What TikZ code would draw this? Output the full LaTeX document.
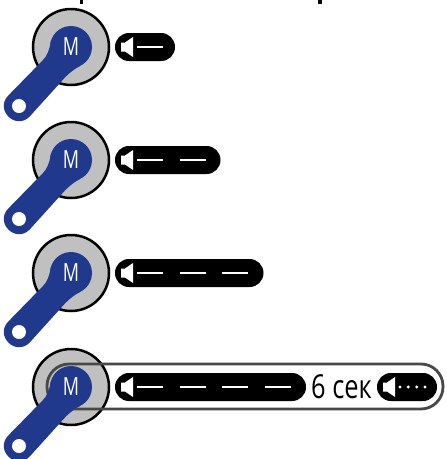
\documentclass[tikz,border=0pt]{standalone}
\usepackage{fontspec}
\setmainfont{Open Sans}
\definecolor{keyblue}{HTML}{21398C}
\definecolor{keygray}{HTML}{C0C0C0}
\definecolor{framegray}{HTML}{484848}
\tikzset{
  x=1pt,y=-1pt,
  disc/.style={draw=black,line width=2.5pt,fill=keygray},
  keybody/.style={fill=keyblue},
  pill/.style={fill=black,rounded corners=13.9pt},
  speaker/.style={fill=white},
  beep/.style={draw=white,line width=2.6pt},
  framebox/.style={draw=framegray,line width=2.8pt,rounded corners=22pt},
  keylabel/.style={text=white,font=\fontsize{25}{25}\selectfont,xscale=.72,inner sep=0pt},
  timelabel/.style={text=black,font=\fontsize{33}{33}\selectfont,xscale=.77,inner sep=0pt},
}
% pill with speaker at left end x=#1, centre y=#2, right end x=#3
\newcommand{\signal}[3]{%
  \fill[pill] (#1,#2-14) rectangle (#3,#2+14);
  \fill[speaker] (#1+6,#2-4.5) -- (#1+10,#2-4.5) -- (#1+18,#2-10) -- (#1+18,#2+10) -- (#1+10,#2+4.5) -- (#1+6,#2+4.5) -- cycle;
}
\begin{document}
\begin{tikzpicture}
\useasboundingbox (0,0) rectangle (447,459);
\clip (0,0) rectangle (447,459);
% cropped ticks at the top edge
\fill[black] (80,0) rectangle (83.3,4);
\fill[black] (318.3,0) rectangle (321.7,4);
\foreach \yy in {47,160,273,387}{
  \draw[disc] (71,\yy) circle[radius=38];
}
\draw[framebox] (47,364) rectangle (443,409);
\foreach \yy in {47,160,273,387}{
  \fill[keybody] (71,\yy) circle[radius=21];
  \fill[keybody] (51,\yy-6) .. controls (49,\yy+4) and (47,\yy+9) .. (43,\yy+13)
     -- (8.4,\yy+48.4)
     .. controls (-5.7,\yy+62.5) and (15.5,\yy+83.7) .. (29.6,\yy+69.6)
     -- (60,\yy+36) .. controls (66,\yy+29) and (71,\yy+24) .. (80,\yy+19) -- (71,\yy) -- cycle;
  \fill[white] (19,\yy+59) circle[radius=7];
  \node[keylabel] (m\yy) at (71,\yy) {M};
}
\signal{115}{47}{175}
\draw[beep] (137,47) -- (163,47);
\signal{115}{160}{220.5}
\foreach \xx in {137,179.7} \draw[beep] (\xx,160) -- (\xx+26,160);
\signal{115}{273}{263.5}
\foreach \xx in {137,179.7,222.4} \draw[beep] (\xx,273) -- (\xx+26,273);
\signal{115}{387}{306}
\foreach \xx in {137,179.7,222.4,265.1} \draw[beep] (\xx,387) -- (\xx+26,387);
\signal{377}{387}{437}
\foreach \xx in {400,408.3,416.7,425} \fill[white] (\xx,387) circle[radius=1.6];
\node[timelabel,anchor=center] (t) at (341.5,387) {6 сек};
\end{tikzpicture}
\end{document}
